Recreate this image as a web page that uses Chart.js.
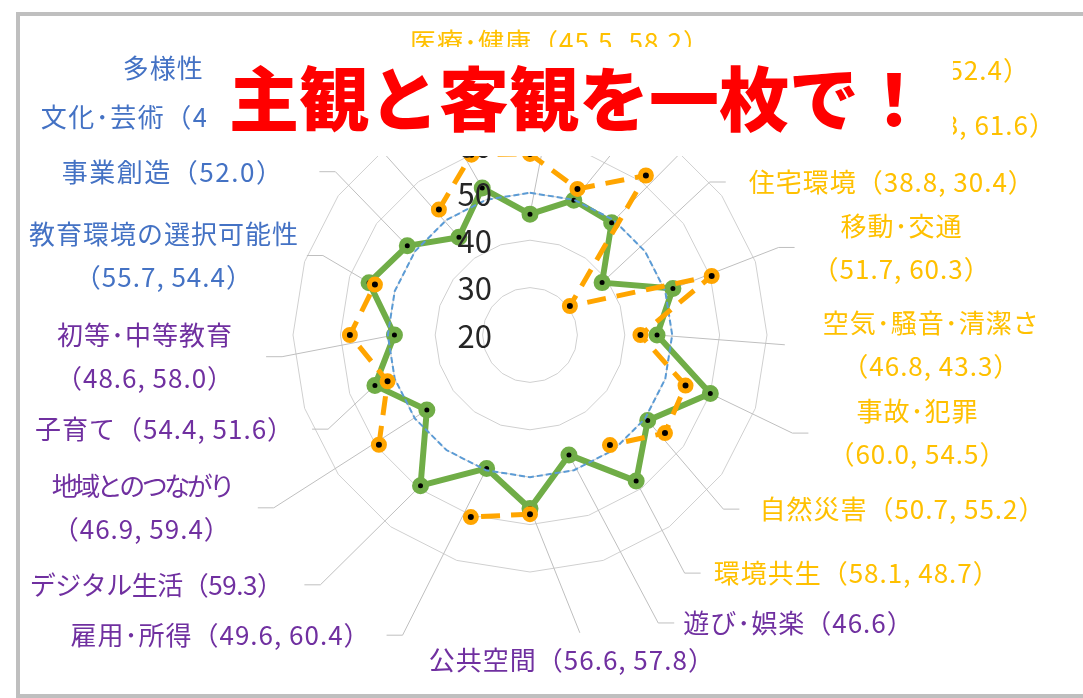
<!DOCTYPE html>
<html lang="ja">
<head>
<meta charset="utf-8">
<script src="https://cdn.jsdelivr.net/npm/chart.js@4.4.1/dist/chart.umd.min.js"></script>
<style>
  html, body { margin: 0; padding: 0; background: #fff; overflow: hidden; }
  body { width: 1083px; height: 698px; position: relative; font-family: "Noto Sans CJK JP", sans-serif; }
  #frame { position: absolute; left: 16px; top: 12px; width: 1200px; height: 686px; border: 4px solid #bfbfbf; box-sizing: border-box; }
  #chart { position: absolute; left: 0; top: 0; }
  #title {
    position: absolute; left: 206px; top: 47px; width: 747px; height: 109px;
    background: #fff; box-sizing: border-box; padding: 14px 0 0 23px;
    color: #ff0000; font-size: 70px; font-weight: 900; line-height: 70px; white-space: nowrap;
  }
</style>
</head>
<body>
<div id="frame"></div>
<canvas id="chart" width="1083" height="698"></canvas>
<div id="title">主観と客観を一枚で！</div>
<script>
const categories = [
    '医療･健康', '介護･福祉', '買物･飲食', '住宅環境', '移動･交通',
    '空気･騒音･清潔さ', '事故･犯罪', '自然災害', '環境共生', '遊び･娯楽',
    '公共空間', '雇用･所得', 'デジタル生活', '地域とのつながり', '子育て',
    '初等･中等教育', '教育環境の選択可能性', '事業創造', '文化･芸術', '多様性'
];
const objectiveScores = [45.5, 49.9, 49.3, 38.8, 51.7, 46.8, 60.0, 50.7, 58.1, 46.6,
                         56.6, 49.6, 59.3, 46.9, 54.4, 48.6, 55.7, 52.0, 45.5, 52.6];
const subjectiveScores = [58.2, 52.4, 61.6, 30.4, 60.3, 43.3, 54.5, 55.2, 48.7, null,
                          57.8, 60.4, null, 59.4, 51.6, 58.0, 54.4, null, 52.7, 60.0];
const averageLine = [50, 50, 50, 50, 50, 50, 50, 50, 50, 50,
                     50, 50, 50, 50, 50, 50, 50, 50, 50, 50];
const tickValues = [20, 30, 40, 50, 60, 70];

// where each label's leader line bends (scale value + degrees of turn), and which side the text sits
const labelLayout = [
    { v: 78.6, turn: 6.2, side: 'top', stub: 0 },
    { v: 84.2, turn: 11.5, side: 'right', gap: 34 },
    { v: 78.0, turn: 4.3, side: 'right', gap: 32 },
    { v: 69.8, turn: -4.4, side: 'right', gap: 23 },
    { v: 75.6, turn: -1.4, side: 'right', gap: 18 },
    { v: 73.8, turn: 2.2, side: 'right', stub: 0, gap: 38 },
    { v: 79.1, turn: 2.5, side: 'right', gap: 20 },
    { v: 74.9, turn: 6.0, side: 'right', gap: 20 },
    { v: 79.9, turn: 3.0, side: 'right', gap: 13 },
    { v: 86.5, turn: -6.0, side: 'right', gap: 9 },
    { v: 83.7, turn: -9.5, side: 'bottom', stub: 0 },
    { v: 88.8, turn: 5.0, side: 'left', gap: 16 },
    { v: 88.8, turn: 4.0, side: 'left', gap: 22, ls: -0.5 },
    { v: 85.2, turn: 2.0, side: 'left', gap: 26, ls1: -3.5 },
    { v: 67.0, turn: -7.0, side: 'left', gap: 18 },
    { v: 72.5, turn: -5.0, side: 'left', gap: 32 },
    { v: 66.8, turn: 3.0, side: 'left', gap: 8 },
    { v: 73.6, turn: 4.0, side: 'left', gap: 36, ls: 1.5 },
    { v: 79.5, turn: -3.3, side: 'left', gap: -14, ls: 1.5 },
    { v: 81.4, turn: -5.5, side: 'left', gap: 16 }
];
const twoLineLabels = [4, 5, 6, 13, 15, 16];

const GREEN = '#70AD47';
const ORANGE = '#FFA500';
const BLUE = '#5B9BD5';
const LABEL_FONT = '26px "Noto Sans CJK JP", sans-serif';

function labelColor(i) {
    if (i <= 8) return '#FFC000';
    if (i <= 15) return '#7030A0';
    return '#4472C4';
}

function labelLines(i) {
    const a = objectiveScores[i].toFixed(1);
    const b = subjectiveScores[i];
    const nums = b == null ? `（${a}）` : `（${a}, ${b.toFixed(1)}）`;
    return twoLineLabels.includes(i) ? [categories[i], nums] : [categories[i] + nums];
}

function kneeOf(scale, i) {
    const lay = labelLayout[i];
    return scale.getPointPosition(i, scale.getDistanceFromCenterForValue(lay.v), lay.turn * Math.PI / 180);
}

const leaderPlugin = {
    id: 'leaders',
    beforeDatasetsDraw(chart) {
        const ctx = chart.ctx;
        const scale = chart.scales.r;
        const pts = chart.getDatasetMeta(2).data;
        ctx.save();
        ctx.strokeStyle = '#bfbfbf';
        ctx.lineWidth = 1;
        labelLayout.forEach((lay, i) => {
            const k = kneeOf(scale, i);
            const stub = lay.stub === undefined ? 16 : lay.stub;
            ctx.beginPath();
            ctx.moveTo(pts[i].x, pts[i].y);
            ctx.lineTo(k.x, k.y);
            if (stub) ctx.lineTo(k.x + (lay.side === 'left' ? -stub : stub), k.y);
            ctx.stroke();
        });
        ctx.restore();
    },
    afterDatasetsDraw(chart) {
        const ctx = chart.ctx;
        const scale = chart.scales.r;
        ctx.save();

        // value ticks up the top spoke, left of it
        ctx.font = '31px "Noto Sans CJK JP", sans-serif';
        ctx.fillStyle = '#262626';
        ctx.textAlign = 'right';
        ctx.textBaseline = 'middle';
        tickValues.forEach(v => {
            ctx.fillText(String(v), scale.xCenter - 38, scale.yCenter - scale.getDistanceFromCenterForValue(v) + 1);
        });

        // category labels
        ctx.font = LABEL_FONT;
        labelLayout.forEach((lay, i) => {
            const k = kneeOf(scale, i);
            const stub = lay.stub === undefined ? 16 : lay.stub;
            const gap = lay.gap || 0;
            const lines = labelLines(i);
            const spacing = (n) => (n === 0 && lay.ls1 !== undefined ? lay.ls1 : (lay.ls !== undefined ? lay.ls : 1)) + 'px';
            ctx.fillStyle = labelColor(i);
            if (lay.side === 'top' || lay.side === 'bottom') {
                ctx.letterSpacing = spacing(1);
                ctx.textAlign = 'center';
                const x = lay.side === 'top' ? k.x : k.x - 8;
                const y = lay.side === 'top' ? k.y - 17 : k.y + 27;
                ctx.fillText(lines[0], x, y);
                return;
            }
            const dir = lay.side === 'left' ? -1 : 1;
            if (lines.length === 1) {
                ctx.letterSpacing = spacing(1);
                ctx.textAlign = dir < 0 ? 'right' : 'left';
                ctx.fillText(lines[0], k.x + dir * (stub + gap), k.y);
            } else {
                const widths = lines.map((t, n) => { ctx.letterSpacing = spacing(n); return ctx.measureText(t).width; });
                const w = Math.max(...widths);
                ctx.textAlign = 'center';
                const cx = k.x + dir * (stub + gap + w / 2);
                ctx.letterSpacing = spacing(0);
                ctx.fillText(lines[0], cx, k.y - 21.5);
                ctx.letterSpacing = spacing(1);
                ctx.fillText(lines[1], cx, k.y + 21.5);
            }
        });
        ctx.restore();
    }
};

new Chart(document.getElementById('chart'), {
    type: 'radar',
    data: {
        labels: categories,
        datasets: [
            {
                label: '主観',
                data: subjectiveScores,
                borderColor: ORANGE,
                borderWidth: 5,
                borderDash: [19, 11],
                borderJoinStyle: 'round',
                fill: false,
                pointRadius: 5.5,
                pointBorderWidth: 5,
                pointBackgroundColor: '#000',
                pointBorderColor: ORANGE,
                order: 1
            },
            {
                label: '平均',
                data: averageLine,
                borderColor: BLUE,
                borderWidth: 2,
                borderDash: [6, 3],
                fill: false,
                pointRadius: 0,
                order: 2
            },
            {
                label: '客観',
                data: objectiveScores,
                borderColor: GREEN,
                borderWidth: 6,
                borderJoinStyle: 'round',
                fill: false,
                pointRadius: 5.5,
                pointBorderWidth: 6,
                pointBackgroundColor: '#000',
                pointBorderColor: GREEN,
                order: 3
            }
        ]
    },
    options: {
        responsive: false,
        devicePixelRatio: 1,
        animation: false,
        layout: { padding: { left: 293, right: 315, top: 98, bottom: 125 } },
        scales: {
            r: {
                min: 20,
                max: 70,
                afterBuildTicks: (scale) => { scale.ticks = tickValues.map(v => ({ value: v })); },
                ticks: { display: false },
                grid: { color: '#d0d0d0', lineWidth: 1 },
                angleLines: { display: false },
                pointLabels: { display: false }
            }
        },
        plugins: {
            legend: { display: false },
            tooltip: { enabled: false }
        }
    },
    plugins: [leaderPlugin]
});
</script>
</body>
</html>
